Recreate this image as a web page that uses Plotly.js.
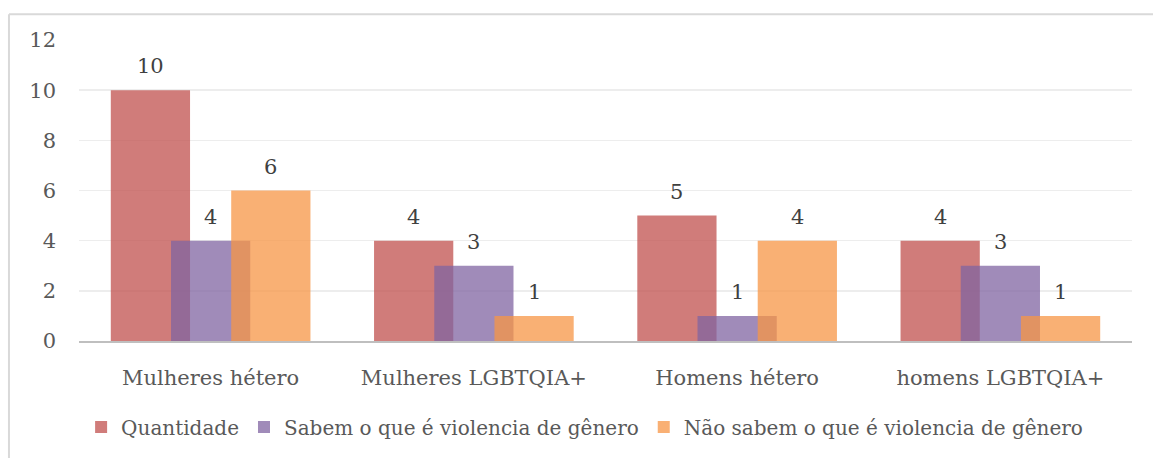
<!DOCTYPE html>
<html>
<head>
<meta charset="utf-8">
<script src="https://cdn.plot.ly/plotly-3.0.1.min.js"></script>
<style>html,body{margin:0;padding:0;background:#fff;}#chart{width:1153px;height:458px;}</style>
</head>
<body>
<div id="chart"></div>
<script>
var categories = ["Mulheres hétero", "Mulheres LGBTQIA+", "Homens hétero", "homens LGBTQIA+"];
var seriesNames = ["Quantidade", "Sabem o que é violencia de gênero", "Não sabem o que é violencia de gênero"];
var quantidade = [10, 4, 5, 4];
var sabem = [4, 3, 1, 3];
var naoSabem = [6, 1, 4, 1];
var yTicks = [0, 2, 4, 6, 8, 10, 12];

var seriesValues = [quantidade, sabem, naoSabem];
var colors = ["rgba(192,80,77,0.75)", "rgba(128,100,162,0.75)", "rgba(247,150,70,0.75)"];
var barWidth = 0.301;
var centers = [-0.2287, 0, 0.2287];
var FONT = "DejaVu Serif, serif";

var traces = seriesValues.map(function (vals, s) {
  return {
    type: "bar",
    name: seriesNames[s],
    x: categories,
    y: vals,
    width: barWidth,
    offset: centers[s] - barWidth / 2,
    marker: {color: colors[s], line: {width: 0}},
    hoverinfo: "y+name"
  };
});

var annotations = [];
seriesValues.forEach(function (vals, s) {
  vals.forEach(function (v, i) {
    annotations.push({
      x: i + centers[s], y: v, xref: "x", yref: "y",
      text: String(v), showarrow: false,
      yanchor: "bottom", xanchor: "center", yshift: 10,
      font: {family: FONT, size: 21, color: "#404040"}
    });
  });
});

var layout = {
  width: 1153, height: 458,
  paper_bgcolor: "#ffffff", plot_bgcolor: "#ffffff",
  margin: {l: 79, r: 21, t: 40, b: 115},
  barmode: "overlay",
  showlegend: true,
  font: {family: FONT, size: 21, color: "#595959"},
  xaxis: {
    type: "category",
    range: [-0.5, 3.5],
    showgrid: false, zeroline: false,
    showline: true, linecolor: "#bfbfbf", linewidth: 2,
    ticks: "", ticklabelstandoff: 17,
    tickfont: {family: FONT, size: 21, color: "#595959"},
    fixedrange: true
  },
  yaxis: {
    range: [0, 12],
    tickvals: yTicks, ticktext: yTicks.map(String),
    showgrid: true, gridcolor: "#ededed", gridwidth: 1.5,
    zeroline: false, showline: false,
    ticks: "", ticklabelstandoff: 22,
    tickfont: {family: FONT, size: 21, color: "#595959"},
    fixedrange: true
  },
  legend: {
    orientation: "h", x: 0.002, xanchor: "left", y: -0.286, yanchor: "middle",
    font: {family: FONT, size: 20, color: "#595959"},
    bgcolor: "rgba(0,0,0,0)", itemclick: false
  },
  annotations: annotations,
  shapes: [
    {type: "line", xref: "paper", yref: "paper", x0: -0.0665, x1: 1.03, y0: 1.0855, y1: 1.0855, line: {color: "#d9d9d9", width: 2}},
    {type: "line", xref: "paper", yref: "paper", x0: -0.0665, x1: -0.0665, y0: 1.0855, y1: -0.4, line: {color: "#d9d9d9", width: 2}}
  ]
};

Plotly.newPlot("chart", traces, layout, {displayModeBar: false, staticPlot: true});
</script>
</body>
</html>
